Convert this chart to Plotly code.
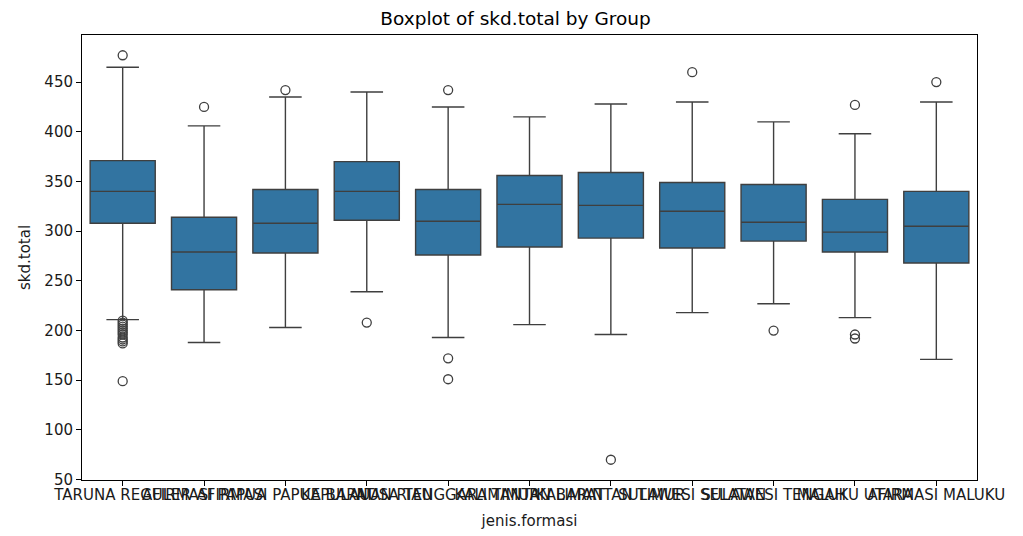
import plotly.graph_objects as go

categories = ["TARUNA REGULER", "AFIRMASI PAPUA", "AFIRMASI PAPUA BARAT", "KEPULAUAN RIAU",
              "NUSA TENGGARA TIMUR", "KALIMANTAN BARAT", "KALIMANTAN TIMUR", "SULAWESI SELATAN",
              "SULAWESI TENGAH", "MALUKU UTARA", "AFIRMASI MALUKU"]
q1 = [308, 241, 278, 311, 276, 284, 293, 283, 290, 279, 268]
median = [340, 279, 308, 340, 310, 327, 326, 320, 309, 299, 305]
q3 = [371, 314, 342, 370, 342, 356, 359, 349, 347, 332, 340]
lower = [211, 188, 203, 239, 193, 206, 196, 218, 227, 213, 171]
upper = [465, 406, 435, 440, 425, 415, 428, 430, 410, 398, 430]
outliers = [
    [477, 210, 208, 206, 204, 202, 200, 198, 196, 193, 191, 189, 187, 149],
    [425],
    [442],
    [208],
    [442, 172, 151],
    [],
    [70],
    [460],
    [200],
    [427, 196, 192],
    [450],
]

fill = "#3274a1"
edge = "#3f3f3f"

fig = go.Figure()
fig.add_trace(go.Box(
    x=categories, q1=q1, median=median, q3=q3, lowerfence=lower, upperfence=upper,
    width=0.8,
    fillcolor=fill, line=dict(color=edge, width=1.4), whiskerwidth=0.5,
    boxpoints=False, showlegend=False, hoverinfo="skip",
))
ox, oy = [], []
for c, vals in zip(categories, outliers):
    for v in vals:
        ox.append(c)
        oy.append(v)
fig.add_trace(go.Scatter(
    x=ox, y=oy, mode="markers", showlegend=False,
    marker=dict(symbol="circle-open", size=9, color=edge, line=dict(width=1.3, color=edge)),
))

axis_common = dict(
    showline=True, linecolor="black", linewidth=1, mirror=True,
    ticks="outside", ticklen=5, tickcolor="black", tickwidth=1,
    showgrid=False, zeroline=False, automargin=False,
    tickfont=dict(family="DejaVu Sans", size=15, color="#1a1a1a"),
    title_font=dict(family="DejaVu Sans", size=15, color="#1a1a1a"),
)
fig.update_layout(
    width=1015, height=528,
    margin=dict(l=74, r=46, t=27, b=56),
    paper_bgcolor="white", plot_bgcolor="white",
    boxgap=0.2,
    title=dict(text="Boxplot of skd.total by Group", x=0.5, xanchor="center", y=0.981, yanchor="middle",
               font=dict(family="DejaVu Sans", size=18.5, color="black")),
    xaxis=dict(type="category", categoryorder="array", categoryarray=categories,
               range=[-0.5, 10.5], tickangle=0, ticklabelstandoff=-4,
               title=dict(text="jenis.formasi", standoff=12), **axis_common),
    yaxis=dict(range=[49.6, 497.4], tickvals=[50, 100, 150, 200, 250, 300, 350, 400, 450],
               title=dict(text="skd.total", standoff=10), **axis_common),
)
fig.write_html("out.html")
